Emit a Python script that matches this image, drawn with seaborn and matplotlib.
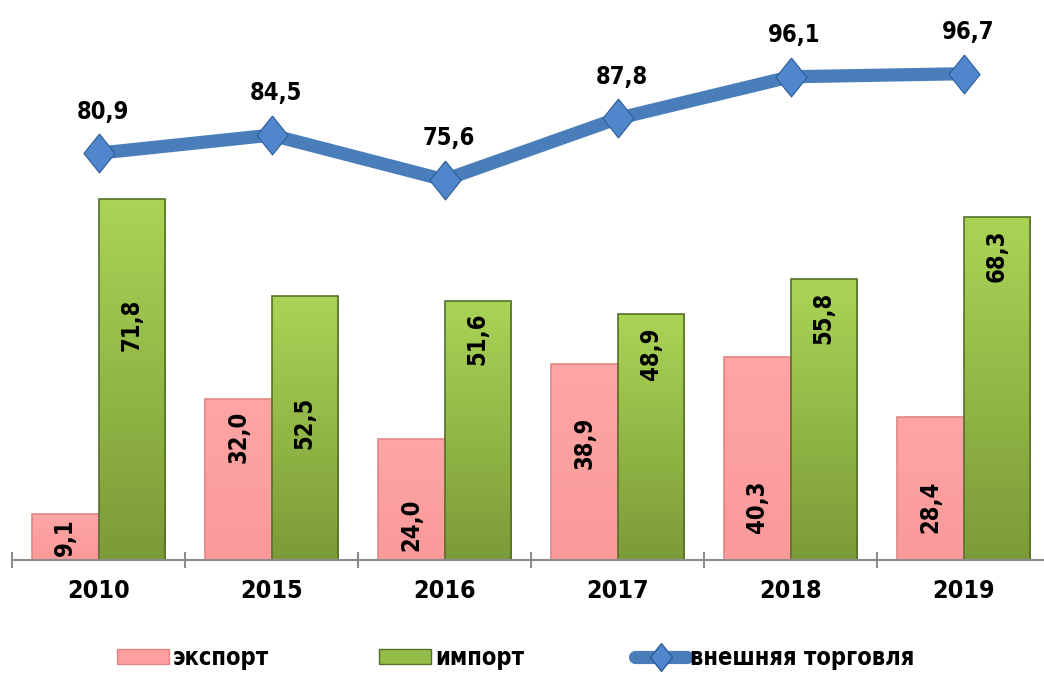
import numpy as np
import pandas as pd
import matplotlib.pyplot as plt
import seaborn as sns
from matplotlib.colors import LinearSegmentedColormap
from matplotlib.lines import Line2D
from matplotlib.patches import Patch

# ---- data ----
years = ['2010', '2015', '2016', '2017', '2018', '2019']
export = [9.1, 32.0, 24.0, 38.9, 40.3, 28.4]
imports = [71.8, 52.5, 51.6, 48.9, 55.8, 68.3]
trade = [80.9, 84.5, 75.6, 87.8, 96.1, 96.7]
series_names = ['экспорт', 'импорт', 'внешняя торговля']

# label anchor heights inside the bars (as placed in the original)
export_label_y = [4.6, 24.5, 7.0, 23.3, 10.5, 10.5]
import_label_y = [46.7, 27.2, 43.9, 41.0, 48.1, 60.4]

sns.set_theme(style='white')
plt.rcParams['font.family'] = ['DejaVu Sans']
plt.rcParams['font.stretch'] = 'condensed'
plt.rcParams['font.weight'] = 'bold'
plt.rcParams['text.color'] = 'black'
plt.rcParams['xtick.color'] = 'black'

PINK = '#FF9E9E'
PINK_EDGE = '#E08686'
GREEN = '#94BD47'
GREEN_TOP = '#AAD456'
GREEN_BOT = '#7C9B38'
GREEN_EDGE = '#55702A'
BLUE = '#4A7EBB'
FS = 17

df = pd.DataFrame({
    'year': years * 2,
    'value': export + imports,
    'series': [series_names[0]] * len(years) + [series_names[1]] * len(years),
})

fig = plt.figure(figsize=(10.44, 6.75), dpi=100)
ax = fig.add_axes([12 / 1044, 115 / 675, 1038 / 1044, 528 / 675])

sns.barplot(data=df, x='year', y='value', hue='series', order=years,
            hue_order=series_names[:2], palette=[PINK, GREEN], saturation=1,
            width=0.77, gap=0, legend=False, ax=ax)

n = len(years)
green_cmap = LinearSegmentedColormap.from_list('g', [GREEN_BOT, GREEN_TOP])
pink_cmap = LinearSegmentedColormap.from_list('p', ['#FA9A9A', '#FFA5A5'])
grad = np.linspace(0, 1, 100).reshape(-1, 1)
for i, bar in enumerate(ax.patches[:2 * n]):
    is_pink = i < n
    x0, w, h = bar.get_x(), bar.get_width(), bar.get_height()
    # gradient fill under the bar outline
    im = ax.imshow(grad, cmap=pink_cmap if is_pink else green_cmap,
                   extent=(x0, x0 + w, 0, h), origin='lower',
                   aspect='auto', zorder=bar.get_zorder() - 0.1)
    im.set_clip_path(bar)
    bar.set_facecolor('none')
    bar.set_edgecolor(PINK_EDGE if is_pink else GREEN_EDGE)
    bar.set_linewidth(1.2)

# value labels inside bars
offset = 0.77 / 4
for i in range(n):
    ax.text(i - offset, export_label_y[i], f'{export[i]:.1f}'.replace('.', ','),
            rotation=90, ha='center', va='center', fontsize=FS, zorder=6)
    ax.text(i + offset, import_label_y[i], f'{imports[i]:.1f}'.replace('.', ','),
            rotation=90, ha='center', va='center', fontsize=FS, zorder=6)

# foreign trade line
diamond = [(0, 1.25), (1, 0), (0, -1.25), (-1, 0), (0, 1.25)]
ax.plot(range(n), trade, color=BLUE, lw=9.5, marker=diamond, markersize=28,
        markerfacecolor='#4F86CC', markeredgecolor='#2E5C96', markeredgewidth=0.8,
        solid_joinstyle='round', clip_on=False, zorder=5)
for i, v in enumerate(trade):
    ax.annotate(f'{v:.1f}'.replace('.', ','), (i, v), xytext=(3, 30),
                textcoords='offset points', ha='center', va='center',
                fontsize=FS, annotation_clip=False)

# axes styling
ax.set_xlim(-0.5, 5.5)
ax.set_ylim(0, 105)
ax.set_xlabel('')
ax.set_ylabel('')
ax.set_yticks([])
sns.despine(ax=ax, left=True, top=True, right=True)
ax.spines['bottom'].set_color('#8C8C8C')
ax.spines['bottom'].set_linewidth(1.5)
ax.spines['bottom'].set_zorder(7)
ax.set_xticks(np.arange(-0.5, n, 1.0), minor=True)
ax.tick_params(axis='x', which='minor', direction='inout', length=11,
               width=1.5, color='#8C8C8C', bottom=True)
ax.tick_params(axis='x', which='major', length=0, pad=14, labelsize=18)
for lbl in ax.get_xticklabels():
    lbl.set_fontweight('bold')

# legend
handles = [
    Patch(facecolor=PINK, edgecolor=PINK_EDGE, label=series_names[0]),
    Patch(facecolor=GREEN, edgecolor=GREEN_EDGE, label=series_names[1]),
    Line2D([0], [0], color=BLUE, lw=9.5, marker=diamond, markersize=20,
           markerfacecolor='#4F86CC', markeredgecolor='#2E5C96',
           label=series_names[2]),
]
fig.legend(handles=handles, loc='center', bbox_to_anchor=(0.494, 0.025),
           ncol=3, frameon=False, handlelength=2.2, handleheight=0.6,
           handletextpad=0.15, columnspacing=4.7,
           prop={'weight': 'bold', 'size': FS, 'stretch': 'condensed'})

fig.savefig('out.png', dpi=100)
